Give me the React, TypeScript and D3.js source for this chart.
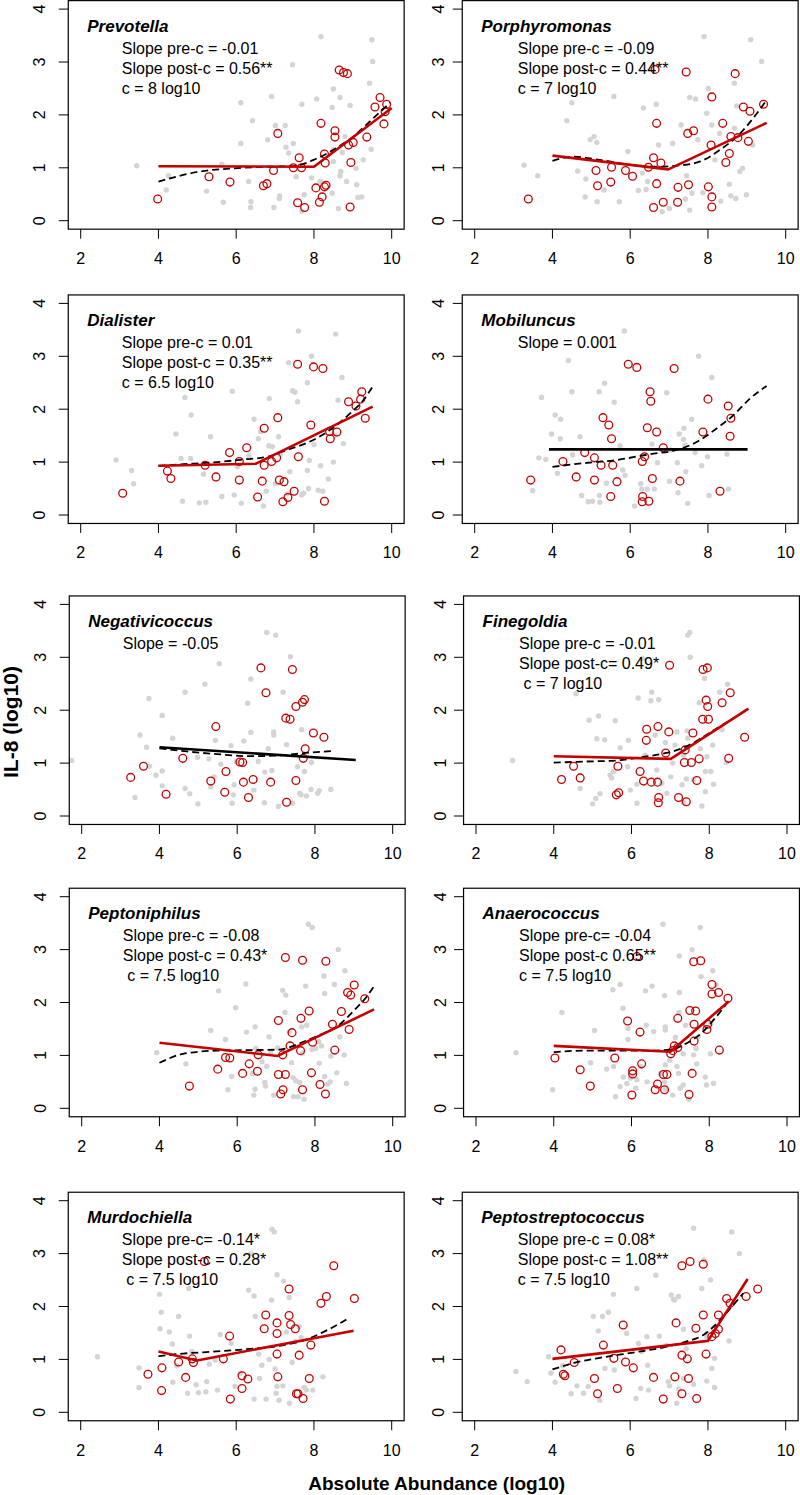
import React from 'react';
import * as d3 from 'd3';

type P = [number, number];

const taxa = ['Prevotella', 'Porphyromonas', 'Dialister', 'Mobiluncus', 'Negativicoccus', 'Finegoldia', 'Peptoniphilus', 'Anaerococcus', 'Murdochiella', 'Peptostreptococcus'];

const statLines: string[][] = [
  ['Slope pre-c = -0.01', 'Slope post-c = 0.56**', 'c = 8 log10'],
  ['Slope pre-c = -0.09', 'Slope post-c = 0.44**', 'c = 7 log10'],
  ['Slope pre-c = 0.01', 'Slope post-c = 0.35**', 'c = 6.5 log10'],
  ['Slope = 0.001'],
  ['Slope = -0.05'],
  ['Slope pre-c = -0.01', 'Slope post-c= 0.49*', ' c = 7 log10'],
  ['Slope pre-c = -0.08', 'Slope post-c = 0.43*', ' c = 7.5 log10'],
  ['Slope pre-c= -0.04', 'Slope post-c 0.65**', 'c = 7.5 log10'],
  ['Slope pre-c= -0.14*', 'Slope post-c = 0.28*', ' c = 7.5 log10'],
  ['Slope pre-c = 0.08*', 'Slope post-c = 1.08**', 'c = 7.5 log10'],
];

const xTicks = [2, 4, 6, 8, 10];
const yTicks = [0, 1, 2, 3, 4];

// ---------- Prevotella ----------
const prevotellaGray: P[] = [[3.44,1.04],[4.2,0.58],[4.26,0.85],[5.24,0.56],[5.63,1.07],[5.67,0.35],[6.12,2.23],[6.12,1.46],[6.32,0.74],[6.38,0.36],[6.37,0.25],[6.42,1.89],[6.81,1.53],[6.91,2.35],[6.97,0.25],[7.01,1.8],[7.11,0.42],[7.12,0.47],[7.26,1.8],[7.28,1.39],[7.45,2.95],[7.47,1.46],[7.35,1.28],[7.54,0.83],[7.69,2.2],[7.69,0.18],[7.75,0.49],[7.94,0.81],[8.07,2.3],[8.18,3.48],[8.47,2.14],[8.5,2.49],[8.5,1.12],[8.47,0.52],[8.67,2.33],[8.69,0.93],[8.67,0.85],[8.63,0.23],[8.73,1.29],[8.8,1.59],[8.93,2.18],[9.08,0.99],[9.1,0.68],[9.13,0.44],[9.23,0.45],[9.27,1.15],[9.43,2.6],[9.47,1.35],[9.49,3.42],[9.51,3.01],[8.5,1.34],[8.16,0.74],[8.84,0.74]];
const prevotellaRed: P[] = [[3.98,0.41],[5.3,0.83],[5.84,0.73],[6.7,0.66],[6.79,0.7],[6.96,0.95],[7.07,1.65],[7.47,1.0],[7.62,1.19],[7.68,1.0],[7.58,0.34],[7.76,0.25],[8.05,0.62],[8.18,1.84],[8.21,0.45],[8.14,0.35],[8.27,0.64],[8.31,0.67],[8.27,1.26],[8.29,1.09],[8.54,1.7],[8.54,1.58],[8.89,1.43],[9.01,1.48],[8.95,1.1],[8.93,0.26],[8.65,2.85],[8.76,2.8],[8.86,2.78],[9.36,1.58],[9.57,2.15],[9.7,2.33],[9.8,1.83],[9.87,2.2],[9.83,2.06]];
const prevotellaLoess: P[] = [[4.0,0.74],[5.07,0.93],[5.93,0.99],[6.79,1.02],[7.47,1.03],[7.99,1.15],[8.5,1.34],[9.01,1.59],[9.53,1.94],[9.96,2.23]];
const prevotellaFit: P[] = [[4.0,1.03],[8.0,1.02],[10.0,2.13]];

// ---------- Porphyromonas ----------
const porphyromonasGray: P[] = [[3.27,1.05],[3.62,0.85],[4.37,1.89],[4.5,2.23],[4.65,0.94],[4.84,0.45],[4.86,0.79],[4.97,1.53],[5.07,1.59],[5.14,1.48],[5.15,0.36],[5.33,0.58],[5.58,2.35],[5.72,0.36],[5.94,1.31],[6.21,0.57],[6.31,0.9],[6.34,2.13],[6.41,0.59],[6.45,0.74],[6.67,2.2],[6.73,1.43],[6.82,0.17],[7.01,0.23],[7.09,1.46],[7.31,1.81],[7.42,0.41],[7.45,0.85],[7.53,0.2],[7.53,2.33],[7.59,0.52],[7.68,2.3],[7.74,1.53],[7.87,0.53],[7.9,3.48],[7.97,2.03],[8.01,2.5],[8.1,1.81],[8.18,1.15],[8.3,1.65],[8.33,0.37],[8.55,0.69],[8.59,0.47],[8.68,2.6],[8.68,1.75],[8.74,2.17],[8.72,0.42],[8.82,0.93],[8.89,0.99],[8.99,0.49],[9.15,1.43],[9.1,3.42],[9.38,3.01]];
const porphyromonasRed: P[] = [[3.38,0.41],[5.16,0.66],[5.12,0.95],[5.52,1.01],[5.5,0.73],[5.88,0.95],[6.06,0.84],[6.47,1.01],[6.6,1.19],[6.79,1.09],[6.68,1.84],[6.68,0.7],[6.64,2.86],[6.6,0.25],[6.85,0.35],[7.23,0.63],[7.22,0.35],[7.44,2.81],[7.48,1.65],[7.63,1.7],[7.5,0.68],[8.01,0.64],[8.08,1.43],[8.1,2.34],[8.1,0.45],[8.1,0.26],[8.38,1.84],[8.46,1.1],[8.55,1.27],[8.59,1.59],[8.77,1.57],[8.7,2.78],[8.91,2.15],[9.08,2.07],[9.04,1.5],[9.43,2.2]];
const porphyromonasLoess: P[] = [[4.0,1.13],[4.54,1.21],[5.22,1.15],[6.08,1.05],[6.77,1.02],[7.2,1.04],[7.8,1.12],[8.31,1.34],[8.83,1.65],[9.26,2.03],[9.51,2.28]];
const porphyromonasFit: P[] = [[4.0,1.23],[6.98,0.97],[9.51,1.85]];

// ---------- Dialister ----------
const dialisterGray: P[] = [[2.91,1.04],[3.31,0.84],[3.36,0.59],[4.45,1.53],[4.62,0.26],[4.68,2.22],[4.84,1.89],[4.58,1.07],[4.83,1.07],[5.05,0.23],[5.22,0.24],[5.16,0.77],[5.34,1.48],[5.63,0.35],[5.9,2.34],[5.95,0.38],[6.13,0.22],[6.03,0.91],[6.33,1.12],[6.46,1.81],[6.57,1.44],[6.63,1.58],[6.7,0.17],[6.77,0.45],[6.85,2.2],[6.84,1.31],[6.93,1.29],[7.01,0.59],[7.09,1.48],[7.13,1.15],[7.31,0.4],[7.35,2.88],[7.38,0.82],[7.45,2.35],[7.51,2.32],[7.6,3.48],[7.58,2.14],[7.68,0.38],[7.73,0.41],[7.83,0.84],[7.86,0.5],[7.83,2.5],[7.88,1.03],[7.94,3.0],[8.0,1.33],[8.11,0.47],[8.17,0.93],[8.23,0.45],[8.37,0.68],[8.5,1.0],[8.56,3.42],[8.54,1.51],[8.72,2.6],[8.62,2.17],[8.76,1.35]];
const dialisterRed: P[] = [[3.08,0.41],[4.23,0.83],[4.32,0.69],[5.2,0.94],[5.48,0.72],[5.83,1.18],[6.08,1.01],[6.08,0.66],[6.27,1.27],[6.55,0.34],[6.67,0.64],[6.72,1.64],[6.72,0.94],[6.91,1.01],[7.04,1.08],[7.07,1.84],[7.11,0.66],[7.23,0.63],[7.2,0.25],[7.33,0.33],[7.49,0.45],[7.58,2.85],[7.6,1.1],[7.92,1.7],[7.99,2.8],[8.23,2.77],[8.27,0.26],[8.4,1.58],[8.42,1.44],[8.59,1.57],[8.89,2.14],[9.08,2.06],[9.2,2.19],[9.23,2.33],[9.32,1.83]];
const dialisterLoess: P[] = [[4.0,0.93],[4.64,0.96],[5.5,1.0],[6.19,1.05],[6.79,1.1],[7.3,1.23],[7.9,1.39],[8.42,1.61],[8.93,1.92],[9.27,2.17],[9.51,2.43]];
const dialisterFit: P[] = [[4.0,0.93],[6.51,0.97],[9.51,2.05]];

// ---------- Mobiluncus ----------
const mobiluncusGray: P[] = [[3.49,0.46],[3.65,1.08],[3.72,2.22],[3.83,1.05],[3.98,1.53],[4.07,1.89],[4.21,1.81],[4.2,1.44],[4.13,0.79],[4.41,2.92],[4.5,2.33],[4.71,1.48],[4.75,0.37],[4.52,1.14],[4.92,0.25],[5.03,0.26],[5.2,2.33],[5.21,0.37],[5.22,0.24],[5.34,2.49],[5.39,0.6],[5.59,2.13],[5.74,1.31],[5.81,0.85],[5.87,0.75],[5.85,3.48],[6.11,0.17],[6.27,0.59],[6.3,0.49],[6.44,0.49],[6.56,1.34],[6.62,0.49],[6.7,0.99],[6.94,2.31],[7.01,0.64],[7.04,1.23],[7.21,0.99],[7.23,0.42],[7.26,1.53],[7.38,1.64],[7.37,1.43],[7.41,1.32],[7.43,0.82],[7.48,0.22],[7.58,1.81],[7.67,1.18],[7.76,3.0],[7.84,0.93],[7.99,1.1],[8.03,0.37],[8.1,2.6],[8.49,1.15],[8.53,0.49]];
const mobiluncusRed: P[] = [[3.44,0.66],[4.27,1.01],[4.61,0.72],[4.83,1.18],[5.08,1.08],[5.08,0.66],[5.25,0.94],[5.3,1.84],[5.45,1.7],[5.52,1.44],[5.55,0.94],[5.5,0.35],[5.66,0.63],[5.95,2.85],[6.17,2.79],[6.31,1.01],[6.37,1.1],[6.32,0.35],[6.31,0.25],[6.48,0.26],[6.44,1.65],[6.51,2.33],[6.53,2.15],[6.57,0.69],[6.68,1.57],[6.85,1.27],[7.13,2.77],[7.28,0.64],[7.87,1.57],[8.0,2.19],[8.31,0.45],[8.52,2.06],[8.59,1.83],[8.57,1.49]];
const mobiluncusLoess: P[] = [[4.0,0.91],[4.8,0.98],[5.65,1.04],[6.51,1.15],[7.2,1.23],[7.71,1.38],[8.23,1.64],[8.66,1.89],[9.08,2.2],[9.51,2.44]];
const mobiluncusFit: P[] = [[3.91,1.24],[9.02,1.24]];

// ---------- Negativicoccus ----------
const negativicoccusGray: P[] = [[1.74,1.05],[3.37,0.35],[3.5,1.53],[3.67,1.3],[3.73,2.22],[3.74,0.94],[3.91,0.77],[4.07,1.9],[4.07,0.85],[4.07,0.57],[4.34,1.47],[4.66,2.34],[4.66,0.52],[4.78,0.42],[4.98,1.11],[4.99,0.23],[5.17,2.49],[5.27,1.08],[5.32,0.55],[5.41,0.74],[5.44,1.43],[5.54,2.88],[5.58,0.98],[5.84,1.33],[5.87,0.24],[5.9,0.4],[5.92,0.59],[5.98,1.03],[6.17,1.42],[6.27,2.13],[6.35,2.59],[6.35,1.58],[6.43,0.49],[6.54,1.03],[6.7,0.25],[6.71,0.83],[6.76,3.47],[6.8,1.27],[6.89,0.86],[6.94,1.59],[6.94,1.53],[6.99,3.42],[7.06,0.18],[7.18,2.34],[7.27,1.35],[7.37,3.01],[7.42,0.24],[7.55,0.93],[7.61,0.43],[7.64,0.4],[7.66,1.63],[7.73,0.84],[7.78,0.38],[7.9,0.5],[7.91,1.01],[8.07,0.43],[8.11,0.48],[8.41,0.5]];
const negativicoccusRed: P[] = [[3.26,0.73],[3.59,0.94],[4.17,0.41],[4.6,1.09],[5.32,0.66],[5.45,1.69],[5.68,0.45],[5.71,0.84],[6.07,1.02],[6.14,1.01],[6.16,0.64],[6.29,0.35],[6.41,0.69],[6.61,2.8],[6.74,2.33],[6.86,0.64],[7.25,1.85],[7.36,1.83],[7.27,0.26],[7.42,2.77],[7.51,2.07],[7.51,0.67],[7.68,2.15],[7.73,2.2],[7.7,1.09],[7.75,1.27],[7.96,1.57],[8.23,1.49]];
const negativicoccusLoess: P[] = [[4.0,1.28],[4.7,1.22],[5.47,1.17],[6.33,1.13],[7.18,1.15],[7.87,1.2],[8.51,1.23]];
const negativicoccusFit: P[] = [[4.0,1.3],[9.05,1.06]];

// ---------- Finegoldia ----------
const finegoldiaGray: P[] = [[2.94,1.05],[4.57,2.31],[4.68,0.52],[4.91,1.81],[5.0,0.23],[5.11,1.46],[5.15,1.89],[5.08,0.33],[5.19,0.42],[5.31,1.44],[5.45,0.77],[5.49,0.72],[5.54,0.84],[5.58,1.8],[5.71,1.29],[5.9,0.93],[5.92,1.43],[5.97,0.49],[6.14,0.24],[6.17,2.23],[6.14,0.6],[6.28,2.98],[6.35,1.15],[6.5,2.18],[6.52,2.34],[6.61,1.53],[6.65,0.87],[6.7,2.2],[6.78,0.62],[6.87,1.39],[6.91,0.43],[7.01,0.74],[7.06,1.0],[7.12,1.34],[7.17,1.59],[7.3,0.59],[7.34,1.15],[7.34,0.25],[7.41,0.7],[7.43,1.61],[7.45,1.47],[7.45,3.42],[7.5,3.47],[7.51,3.0],[7.6,0.68],[7.74,2.14],[7.77,1.27],[7.81,0.19],[7.88,2.6],[7.9,0.84],[7.9,0.46],[7.94,1.12],[8.04,0.84],[8.09,1.34],[8.11,0.6],[8.27,2.34],[8.33,1.63],[8.44,1.01],[8.47,2.49]];
const finegoldiaRed: P[] = [[4.2,0.69],[4.51,0.94],[4.68,0.72],[5.65,0.94],[5.61,0.4],[5.67,0.44],[6.22,0.84],[6.38,1.43],[6.39,1.64],[6.31,0.66],[6.51,0.64],[6.67,0.64],[6.68,1.69],[6.7,0.35],[6.69,0.25],[6.88,1.19],[6.96,1.59],[6.98,2.85],[7.21,0.35],[7.36,1.01],[7.38,1.25],[7.41,0.27],[7.54,1.01],[7.58,1.57],[7.68,0.67],[7.74,1.08],[7.84,2.77],[7.95,2.8],[7.83,1.83],[7.98,1.83],[7.92,2.19],[7.96,2.07],[8.33,2.14],[8.54,2.33],[8.5,1.09],[8.91,1.49]];
const finegoldiaLoess: P[] = [[4.0,1.01],[4.85,1.03],[5.62,1.05],[6.22,1.11],[6.82,1.18],[7.34,1.29],[7.77,1.46],[8.2,1.66],[8.63,1.85],[9.0,2.03]];
const finegoldiaFit: P[] = [[4.0,1.13],[7.01,1.08],[9.01,2.03]];

// ---------- Peptoniphilus ----------
const peptoniphilusGray: P[] = [[3.93,1.05],[4.68,0.84],[5.32,1.47],[5.52,2.22],[5.7,1.3],[5.76,0.35],[5.96,1.9],[5.86,0.6],[6.22,2.35],[6.24,1.44],[6.39,0.66],[6.43,0.25],[6.46,1.54],[6.46,0.36],[6.48,1.13],[6.64,0.88],[6.71,0.49],[6.73,0.42],[6.76,0.79],[6.82,1.35],[6.86,1.04],[6.94,0.25],[7.04,1.14],[7.17,2.23],[7.23,1.81],[7.25,2.14],[7.34,1.45],[7.4,0.86],[7.44,0.58],[7.45,0.22],[7.51,0.52],[7.57,0.22],[7.61,0.49],[7.66,1.54],[7.68,1.04],[7.72,0.17],[7.76,2.31],[7.79,1.57],[7.83,3.48],[7.93,3.42],[7.92,1.11],[8.02,1.13],[8.1,1.26],[8.11,0.85],[8.17,1.18],[8.23,2.5],[8.25,2.17],[8.25,0.6],[8.33,0.46],[8.39,0.5],[8.41,0.99],[8.5,2.34],[8.56,0.67],[8.6,3.0],[8.64,1.35],[8.75,1.01],[8.77,2.6],[8.81,0.47]];
const peptoniphilusRed: P[] = [[4.77,0.42],[5.5,0.74],[5.7,0.96],[5.81,0.95],[6.14,0.66],[6.31,0.84],[6.52,0.7],[6.54,1.01],[7.06,0.64],[7.06,1.66],[7.12,0.27],[7.18,0.35],[7.17,1.01],[7.24,0.64],[7.24,2.85],[7.36,1.18],[7.41,1.43],[7.63,1.09],[7.64,1.7],[7.68,0.35],[7.68,2.8],[7.85,1.84],[7.91,0.67],[7.94,1.25],[8.13,0.45],[8.27,0.27],[8.28,2.78],[8.45,1.59],[8.51,1.1],[8.68,1.83],[8.84,2.19],[8.92,2.14],[8.88,1.49],[9.01,2.33],[9.28,2.07]];
const peptoniphilusLoess: P[] = [[4.0,0.86],[4.61,1.03],[5.47,1.09],[6.33,1.1],[7.1,1.11],[7.61,1.23],[8.13,1.39],[8.56,1.54],[8.98,1.83],[9.33,2.11],[9.52,2.31]];
const peptoniphilusFit: P[] = [[4.0,1.24],[7.04,0.99],[9.52,1.87]];

// ---------- Anaerococcus ----------
const anaerococcusGray: P[] = [[3.03,1.05],[3.97,0.35],[4.21,1.81],[4.95,0.86],[5.05,1.47],[5.36,0.74],[5.52,2.24],[5.54,0.79],[5.59,0.22],[5.71,2.34],[5.71,0.41],[5.78,1.89],[5.79,0.59],[5.88,0.47],[5.91,1.51],[5.91,1.3],[5.97,0.57],[6.01,0.6],[6.14,0.54],[6.11,0.38],[6.24,0.79],[6.36,2.22],[6.38,1.57],[6.4,0.5],[6.53,2.31],[6.57,1.45],[6.74,0.66],[6.81,3.48],[6.85,2.13],[6.87,1.54],[6.87,1.48],[6.87,0.82],[6.85,0.5],[6.87,0.36],[6.98,0.91],[7.06,0.25],[7.13,1.34],[7.17,0.79],[7.21,0.66],[7.23,2.88],[7.23,2.19],[7.22,1.81],[7.25,0.38],[7.33,0.44],[7.33,1.03],[7.39,1.57],[7.48,0.17],[7.56,3.0],[7.6,1.01],[7.66,1.13],[7.68,0.84],[7.71,1.35],[7.77,3.42],[7.79,2.49],[7.9,0.59],[7.93,0.44],[8.03,1.03],[8.04,1.61],[8.09,2.6],[8.11,0.47],[8.18,2.33]];
const anaerococcusRed: P[] = [[4.03,0.95],[4.68,0.73],[4.94,0.42],[5.57,0.95],[5.9,1.65],[6.03,0.71],[6.03,0.65],[6.01,0.25],[6.22,1.44],[6.26,0.84],[6.61,0.35],[6.67,0.46],[6.85,0.35],[6.82,0.64],[6.91,0.64],[7.01,1.03],[7.06,1.09],[7.1,1.18],[7.19,1.7],[7.19,1.15],[6.14,2.87],[7.48,0.26],[7.5,1.85],[7.56,0.66],[7.61,1.27],[7.61,1.59],[7.65,1.84],[7.6,2.77],[7.78,2.79],[7.94,1.49],[7.96,1.59],[8.07,2.34],[8.07,2.16],[8.24,2.19],[8.26,1.1],[8.48,2.08]];
const anaerococcusLoess: P[] = [[4.0,1.06],[4.76,1.09],[5.62,1.09],[6.48,1.09],[7.0,1.11],[7.42,1.23],[7.77,1.4],[8.11,1.67],[8.5,2.03]];
const anaerococcusFit: P[] = [[4.0,1.18],[7.0,1.07],[8.5,2.02]];

// ---------- Murdochiella ----------
const murdochiellaGray: P[] = [[2.43,1.05],[3.5,0.84],[3.5,0.47],[4.03,2.23],[4.07,1.89],[4.04,1.58],[4.28,1.52],[4.36,1.29],[4.37,0.57],[4.52,1.81],[4.47,0.88],[4.75,0.36],[4.8,1.44],[4.78,2.34],[4.86,1.15],[4.97,0.52],[5.03,0.37],[5.22,0.39],[5.24,0.58],[5.31,0.91],[5.46,0.99],[5.52,0.42],[5.59,1.47],[5.87,1.3],[5.97,0.49],[6.1,0.74],[6.32,2.31],[6.38,3.0],[6.46,2.2],[6.49,1.81],[6.46,0.25],[6.58,1.1],[6.6,0.64],[6.66,0.89],[6.77,0.25],[6.85,1.0],[6.91,2.12],[6.92,3.46],[6.98,3.41],[7.0,0.82],[7.03,0.36],[7.05,2.6],[7.05,0.49],[7.1,0.23],[7.2,0.5],[7.22,2.48],[7.29,1.52],[7.36,2.17],[7.37,0.17],[7.44,0.94],[7.52,1.34],[7.62,1.62],[7.67,1.41],[7.75,0.47],[7.81,0.42],[7.97,0.42],[8.23,0.67]];
const murdochiellaRed: P[] = [[3.73,0.72],[4.09,0.84],[4.08,0.41],[4.52,0.95],[4.7,0.66],[4.87,1.01],[4.9,0.94],[5.18,2.85],[5.67,1.01],[5.83,1.44],[5.85,0.25],[6.15,0.69],[6.15,0.45],[6.3,0.63],[6.72,1.58],[6.76,1.84],[7.05,1.69],[7.05,1.49],[7.05,1.1],[7.07,0.67],[7.36,2.33],[7.36,1.83],[7.4,1.66],[7.52,1.58],[7.55,0.35],[7.59,0.35],[7.62,1.08],[7.72,0.26],[7.88,0.64],[7.92,1.27],[8.18,2.06],[8.32,2.19],[8.51,2.77],[9.04,2.15]];
const murdochiellaLoess: P[] = [[4.0,1.06],[4.64,1.11],[5.5,1.15],[6.36,1.2],[7.22,1.27],[7.82,1.38],[8.25,1.52],[8.59,1.65],[8.89,1.78]];
const murdochiellaFit: P[] = [[4.0,1.15],[4.99,0.98],[9.02,1.54]];

// ---------- Peptostreptococcus ----------
const peptostreptococcusGray: P[] = [[3.06,0.77],[3.35,0.58],[3.9,1.05],[3.96,0.74],[4.07,0.57],[4.26,0.88],[4.48,0.35],[4.63,0.5],[4.8,0.36],[4.92,0.49],[5.05,1.81],[5.18,1.54],[5.22,0.23],[5.29,1.81],[5.44,1.89],[5.35,0.83],[5.57,2.23],[5.59,0.8],[5.91,1.49],[6.15,0.26],[6.17,2.34],[6.21,1.3],[6.3,1.15],[6.27,0.45],[6.43,1.43],[6.45,0.89],[6.47,0.42],[6.66,2.59],[6.75,1.44],[6.94,1.27],[6.98,0.58],[7.01,0.5],[7.05,2.22],[7.11,2.14],[7.14,2.12],[7.24,2.19],[7.2,0.17],[7.25,0.44],[7.37,1.57],[7.37,0.64],[7.44,1.2],[7.63,3.48],[7.63,0.53],[7.84,2.34],[7.9,2.88],[7.97,1.43],[7.97,1.49],[8.07,2.5],[8.1,0.83],[8.17,1.02],[8.17,0.47],[7.97,0.59],[8.54,1.35],[8.61,3.41],[8.81,3.0]];
const peptostreptococcusRed: P[] = [[4.22,1.18],[4.28,0.72],[4.32,0.69],[4.56,0.94],[5.08,0.64],[5.16,0.35],[5.31,1.27],[5.58,1.02],[5.67,0.45],[5.82,1.65],[5.88,0.95],[6.08,0.84],[6.6,0.66],[6.85,0.25],[7.15,0.67],[7.18,1.69],[7.33,2.77],[7.33,1.08],[7.33,0.35],[7.54,2.85],[7.47,1.01],[7.5,0.64],[7.69,1.59],[7.71,0.26],[7.88,2.8],[7.88,1.84],[7.95,1.1],[8.1,1.43],[8.19,1.49],[8.27,1.84],[8.27,1.57],[8.48,2.15],[8.57,2.06],[8.98,2.19],[9.28,2.33]];
const peptostreptococcusLoess: P[] = [[4.0,0.81],[4.54,0.93],[5.22,1.03],[6.08,1.13],[6.94,1.24],[7.46,1.34],[7.88,1.46],[8.23,1.68],[8.57,1.96],[8.91,2.25]];
const peptostreptococcusFit: P[] = [[4.0,1.01],[8.0,1.35],[9.02,2.52]];

const grayPts = [prevotellaGray, porphyromonasGray, dialisterGray, mobiluncusGray, negativicoccusGray, finegoldiaGray, peptoniphilusGray, anaerococcusGray, murdochiellaGray, peptostreptococcusGray];
const redPts = [prevotellaRed, porphyromonasRed, dialisterRed, mobiluncusRed, negativicoccusRed, finegoldiaRed, peptoniphilusRed, anaerococcusRed, murdochiellaRed, peptostreptococcusRed];
const loessCurves = [prevotellaLoess, porphyromonasLoess, dialisterLoess, mobiluncusLoess, negativicoccusLoess, finegoldiaLoess, peptoniphilusLoess, anaerococcusLoess, murdochiellaLoess, peptostreptococcusLoess];
const fitLines = [prevotellaFit, porphyromonasFit, dialisterFit, mobiluncusFit, negativicoccusFit, finegoldiaFit, peptoniphilusFit, anaerococcusFit, murdochiellaFit, peptostreptococcusFit];
const segmented = [true, true, true, false, false, true, true, true, true, true];

const RED = '#c40000';
const GRAY = '#d4d4d4';
const FONT = '"Liberation Sans", Arial, Helvetica, sans-serif';

// layout (pixel of x=2 per row/col, pixel of y=0 per row)
const X2 = [[80.7, 474.7], [80.7, 474.7], [81.7, 476], [81.7, 476], [80.7, 474.7]];
const Y0 = [220.7, 515, 816, 1108.3, 1412.3];
const UX = 38.875;
const UY = 52.9;

function Panel({ i }: { i: number }) {
  const row = Math.floor(i / 2);
  const col = i % 2;
  const x2 = X2[row][col];
  const y0 = Y0[row];
  const x = d3.scaleLinear().domain([2, 10]).range([x2, x2 + 8 * UX]);
  const y = d3.scaleLinear().domain([0, 4]).range([y0, y0 - 4 * UY]);
  const bx0 = x(1.68), bx1 = x(10.32), by0 = y(4.16), by1 = y(-0.16);
  const line = d3.line<P>().x(d => x(d[0])).y(d => y(d[1]));
  const curve = d3.line<P>().x(d => x(d[0])).y(d => y(d[1])).curve(d3.curveMonotoneX);
  const tickLen = 9.5;
  const yLabX = bx0 - (col === 0 ? 28.5 : 23.5);
  const statX = bx0 + (col === 0 ? 53.5 : 55.5);
  return (
    <g>
      {grayPts[i].map((p, k) => (
        <circle key={'g' + k} cx={x(p[0])} cy={y(p[1])} r={2.7} fill={GRAY} />
      ))}
      {redPts[i].map((p, k) => (
        <circle key={'r' + k} cx={x(p[0])} cy={y(p[1])} r={3.9} fill="none" stroke={RED} strokeWidth={1.3} />
      ))}
      <path d={curve(loessCurves[i]) || ''} fill="none" stroke="#000" strokeWidth={1.8} strokeDasharray="7,4" />
      <path d={line(fitLines[i]) || ''} fill="none" stroke={segmented[i] ? RED : '#000'} strokeWidth={2.6} strokeLinejoin="round" />
      <rect x={bx0} y={by0} width={bx1 - bx0} height={by1 - by0} fill="none" stroke="#000" strokeWidth={1.2} />
      {xTicks.map(t => (
        <g key={'xt' + t}>
          <line x1={x(t)} x2={x(t)} y1={by1} y2={by1 + tickLen} stroke="#000" strokeWidth={1} />
          <text x={x(t)} y={by1 + 35} textAnchor="middle" fontSize={16} fontFamily={FONT}>{t}</text>
        </g>
      ))}
      {yTicks.map(t => (
        <g key={'yt' + t}>
          <line x1={bx0 - tickLen} x2={bx0} y1={y(t)} y2={y(t)} stroke="#000" strokeWidth={1} />
          <text transform={`translate(${yLabX},${y(t)}) rotate(-90)`} textAnchor="middle" dy="0.35em" fontSize={16} fontFamily={FONT}>{t}</text>
        </g>
      ))}
      <text x={bx0 + 19} y={by0 + 31} fontSize={17} fontWeight="bold" fontStyle="italic" fontFamily={FONT}>{taxa[i]}</text>
      {statLines[i].map((s, k) => (
        <text key={'s' + k} x={statX} y={by0 + 53 + k * 20} fontSize={16} fontFamily={FONT} style={{ whiteSpace: 'pre' }}>{s}</text>
      ))}
    </g>
  );
}

export default function App() {
  return (
    <svg width={800} height={1495} viewBox="0 0 800 1495" style={{ position: 'absolute', left: 0, top: 0, background: '#fff' }}>
      <rect x={0} y={0} width={800} height={1495} fill="#fff" />
      {taxa.map((_, i) => <Panel key={i} i={i} />)}
      <text transform="translate(11,722) rotate(-90)" textAnchor="middle" dy="0.35em" fontSize={21} fontWeight="bold" fontFamily={FONT}>IL-8 (log10)</text>
      <text x={436.7} y={1490} textAnchor="middle" fontSize={19} fontWeight="bold" fontFamily={FONT}>Absolute Abundance (log10)</text>
    </svg>
  );
}
